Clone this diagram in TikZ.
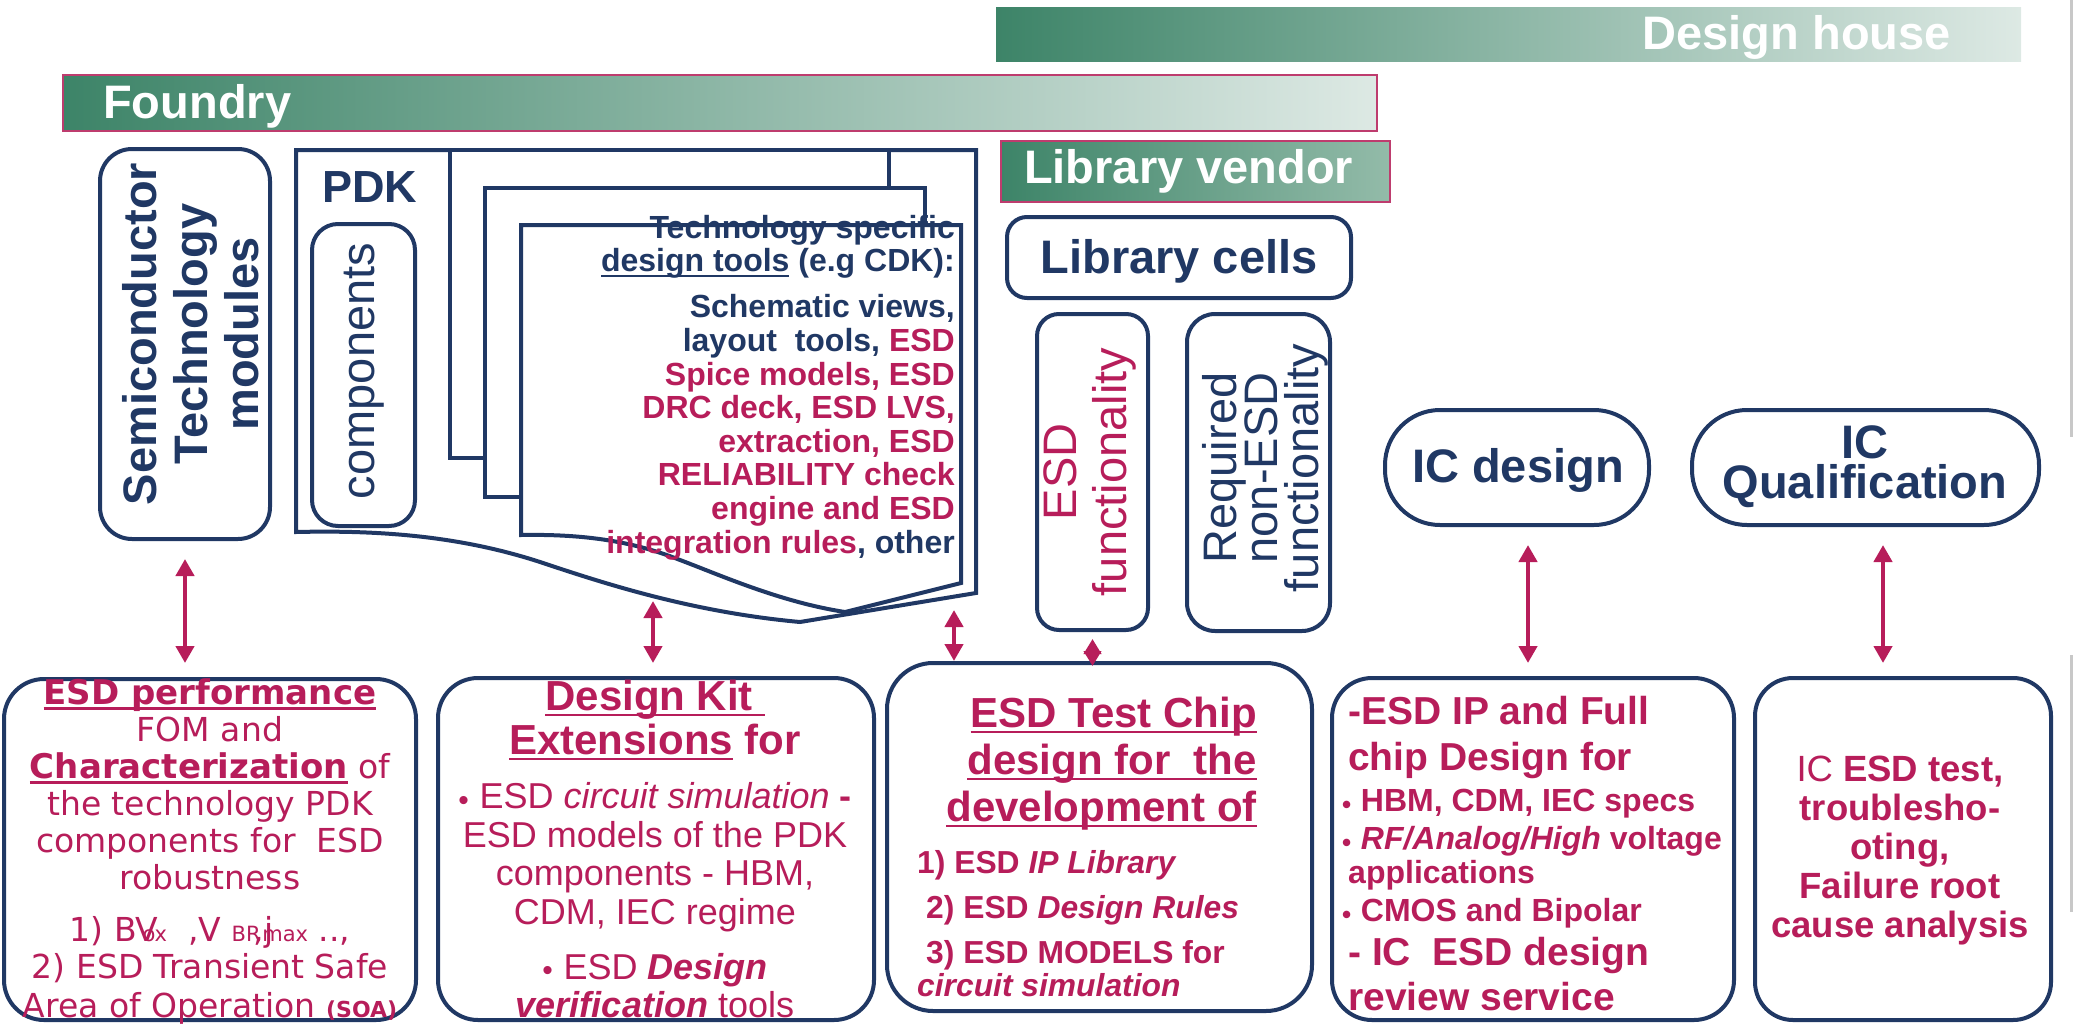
\documentclass[tikz,border=0pt]{standalone}
\usepackage{fontspec}
\setmainfont{Liberation Sans}
\newfontfamily\verdfont{DejaVu Sans}
\usetikzlibrary{arrows.meta,positioning}
\definecolor{navy}{RGB}{32,56,100}
\definecolor{crim}{RGB}{183,29,90}
\definecolor{gdark}{RGB}{61,132,104}
\definecolor{glight}{RGB}{221,233,228}
\definecolor{gmid}{RGB}{147,187,169}
\definecolor{barline}{RGB}{190,60,110}
\definecolor{edgegray}{RGB}{200,200,200}
\setlength{\lineskiplimit}{-100pt}
\newsavebox\ulbox
\newcommand{\esdul}[1]{\sbox\ulbox{#1}\rlap{\rule[-5.5pt]{\wd\ulbox}{2.5pt}}\usebox\ulbox}
\newcommand{\bul}[1]{\raisebox{-1.5pt}{\fontsize{#1}{#1}\selectfont\textbullet}\hspace{0.3em}}
\newcommand{\lowidx}[1]{{\fontsize{21}{21}\selectfont #1}}

\begin{document}
\begin{tikzpicture}[x=1pt, y=-1pt,
  every node/.style={inner sep=0pt},
  rbox/.style={draw=navy, line width=4pt, fill=white, inner sep=0pt},
  pdkline/.style={draw=navy, line width=4pt, fill=white},
  bartxt/.style={text=white, font=\bfseries\fontsize{47}{50}\selectfont},
  biarrow/.style={draw=crim, line width=4.5pt, >={Triangle[width=18pt,length=17pt]}, <->}
]
\useasboundingbox (0,0) rectangle (2074,1025);

\shade[left color=gdark, right color=glight] (996,8) rectangle (2021,62);
\node[bartxt, anchor=base east] (dhouse) at (1951,50) {Design house};
\shadedraw[left color=gdark, right color=glight, draw=barline, line width=1.5pt] (63,75) rectangle (1377,131);
\node[bartxt, anchor=base west] (foundry) at (103,118) {Foundry};
\shadedraw[left color=gdark, right color=gmid, draw=barline, line width=1.5pt] (1001,141) rectangle (1390,202);
\node[bartxt, anchor=base west] (libvendor) at (1024,183) {Library vendor};

\node[rbox, rounded corners=32pt, minimum width=170pt, minimum height=390pt] (semi) at (185,344) {};
\node[rotate=90, text=navy, align=center, font=\bfseries\fontsize{47}{51}\selectfont] (semitxt) at (191,334) {Semiconductor\\Technology\\modules};

\draw[pdkline] (296,150) -- (976,150) -- (976,593) -- (800,622) .. controls (690,612) and (600,582) .. (540,562) .. controls (460,536) and (380,530) .. (296,532) -- cycle;
\draw[pdkline] (450,150) rectangle (889,458);
\draw[pdkline] (485,188) rectangle (925,497);
\draw[pdkline] (521,225) -- (961,225) -- (961,583) -- (845,612) .. controls (780,602) and (720,575) .. (680,560) .. controls (630,540) and (580,534) .. (521,535) -- cycle;
\node[text=navy, font=\bfseries\fontsize{45}{45}\selectfont, anchor=base west] (pdk) at (322,202) {PDK};
\node[rbox, rounded corners=26pt, minimum width=103pt, minimum height=302pt] (comp) at (363.5,375) {};
\node[rotate=90, text=navy, font=\fontsize{47}{47}\selectfont] (comptxt) at (364,371) {components};
\node[anchor=north east, align=right, text=navy, font=\bfseries\fontsize{32}{33.6}\selectfont] (cdktxt) at (955,215) {Technology specific\\
\esdul{design tools} (e.g CDK):\\[12.4pt]
Schematic views,\\
layout\ \ tools, \textcolor{crim}{ESD}\\
\textcolor{crim}{Spice models, ESD}\\
\textcolor{crim}{DRC deck, ESD LVS,}\\
\textcolor{crim}{extraction, ESD}\\
\textcolor{crim}{RELIABILITY check}\\
\textcolor{crim}{engine and ESD}\\
\textcolor{crim}{integration rules}, other};

\node[rbox, rounded corners=20pt, minimum width=344pt, minimum height=81pt] (libcells) at (1179,257.5) {};
\node[text=navy, font=\bfseries\fontsize{47}{47}\selectfont, anchor=base] (libtxt) at (1179,273) {Library cells};
\node[rbox, rounded corners=22pt, minimum width=111pt, minimum height=316pt] (esdf) at (1092.5,472) {};
\node[rotate=90, align=center, text=crim, font=\fontsize{47}{50}\selectfont] (esdftxt) at (1089.5,472) {ESD\\functionality};
\node[rbox, rounded corners=28pt, minimum width=143pt, minimum height=317pt] (reqf) at (1258.5,472.5) {};
\node[rotate=90, align=center, text=navy, font=\fontsize{47}{41}\selectfont] (reqftxt) at (1265,468) {Required\\non-ESD\\functionality};

\node[rbox, rounded corners=55pt, minimum width=264pt, minimum height=115pt] (icd) at (1517,467.5) {};
\node[text=navy, font=\bfseries\fontsize{47}{47}\selectfont, anchor=base] (icdtxt) at (1518,482) {IC design};
\node[rbox, rounded corners=55pt, minimum width=347pt, minimum height=115pt] (icq) at (1865.5,467.5) {};
\node[text=navy, align=center, font=\bfseries\fontsize{47}{40}\selectfont, anchor=north] (icqtxt) at (1865,425) {IC\\Qualification};

\node[rbox, rounded corners=40pt, minimum width=412pt, minimum height=341pt] (perf) at (210,849.5) {};
\node[rbox, rounded corners=40pt, minimum width=436pt, minimum height=342pt] (kit) at (656,849) {};
\node[rbox, rounded corners=46pt, minimum width=425pt, minimum height=348pt] (chip) at (1099.5,837) {};
\node[rbox, rounded corners=40pt, minimum width=402pt, minimum height=342pt] (esdip) at (1533,849) {};
\node[rbox, rounded corners=38pt, minimum width=296pt, minimum height=342pt] (esdtest) at (1903,849) {};

\node[anchor=north, align=center, text=crim, font=\verdfont\fontsize{33}{37}\selectfont] (perftxt) at (210,678) {{\bfseries\fontsize{34}{37}\selectfont\esdul{ESD performance}}\\
FOM and\\
{\bfseries\fontsize{34}{37}\selectfont\esdul{Characterization}} of\\
the technology PDK\\
components for\ \ ESD\\
robustness\\[15pt]
1) BV\kern-16pt\lowidx{ox}\ \ ,V\ \lowidx{BR}\kern-7pt,j\kern-11pt\lowidx{max}\ ..,\\
2) ESD Transient Safe\\[2pt]
Area of Operation {\bfseries\fontsize{22}{37}\selectfont(SOA)}};

\node[anchor=north, align=center, text=crim, font=\fontsize{36}{38.5}\selectfont] (kittxt) at (655,680) {{\bfseries\fontsize{42}{38.5}\selectfont\esdul{Design Kit\ }}\\[5.5pt]
{\bfseries\fontsize{42}{38.5}\selectfont\esdul{Extensions} for}\\[15.5pt]
\bul{30}ESD \textit{circuit simulation} \textbf{-}\\
ESD models of the PDK\\
components - HBM,\\
CDM, IEC regime\\[16.5pt]
\bul{30}ESD \textbf{\textit{Design}}\\
\textbf{\textit{verification}} tools};

\node[anchor=north east, align=right, text=crim, font=\bfseries\fontsize{42}{47}\selectfont] (chiphead) at (1257,697) {\esdul{ESD Test Chip}\\
\esdul{design for\ \ the}\\
\esdul{development of}};
\node[anchor=north west, align=left, text=crim, font=\bfseries\fontsize{31.8}{45}\selectfont] (chiplist) at (917,850) {1) ESD \textit{IP Library}\\
\hspace*{9pt}2) ESD \textit{Design Rules}\\
\hspace*{9pt}3) ESD MODELS for\\[-12pt]
\textit{circuit simulation}};

\node[anchor=north west, align=left, text=crim, font=\bfseries\fontsize{32}{38}\selectfont] (iptxt) at (1342,696.5) {\hspace*{6pt}{\fontsize{39}{38}\selectfont -ESD IP and Full}\\[8pt]
\hspace*{6pt}{\fontsize{39}{38}\selectfont chip Design for}\\[3pt]
\bul{26}HBM, CDM, IEC specs\\
\bul{26}\textit{RF/Analog/High} voltage\\[-4pt]
\hspace*{6pt}applications\\
\bul{26}CMOS and Bipolar\\[6pt]
\hspace*{6pt}{\fontsize{39}{38}\selectfont - IC\ \ ESD design}\\[7pt]
\hspace*{6pt}{\fontsize{39}{38}\selectfont review service}};

\node[anchor=north, align=center, text=crim, font=\bfseries\fontsize{36.5}{39}\selectfont] (testtxt) at (1900,756) {{\mdseries IC} ESD test,\\
troublesho-\\
oting,\\
Failure root\\
cause analysis};

\coordinate (pdkwave) at (653,601);
\coordinate (pdkedge) at (954,610);
\coordinate (icdarr) at ([xshift=11pt]icd.south);
\coordinate (icqarr) at ([xshift=17.5pt]icq.south);
\draw[biarrow, shorten <=18pt, shorten >=14pt] (semi.south) -- (semi.south |- perf.north);
\draw[biarrow, shorten >=13pt] (pdkwave) -- (pdkwave |- kit.north);
\draw[biarrow] (pdkedge) -- (pdkedge |- chip.north);
\draw[biarrow, >={Triangle[width=17pt,length=15pt]}, shorten <=7pt, shorten >=-5pt] (esdf.south) -- (esdf.south |- chip.north);
\draw[biarrow, shorten <=18pt, shorten >=13pt] (icdarr) -- (icdarr |- esdip.north);
\draw[biarrow, shorten <=18pt, shorten >=13pt] (icqarr) -- (icqarr |- esdtest.north);

\draw[edgegray, line width=3pt] (2071,0) -- (2071,437);
\draw[edgegray, line width=3pt] (2071,655) -- (2071,912);
\end{tikzpicture}
\end{document}
